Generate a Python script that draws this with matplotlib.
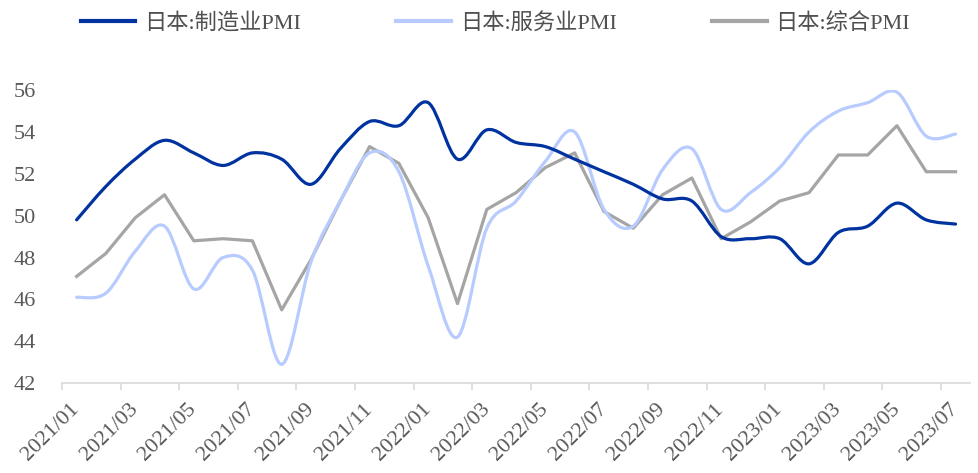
import matplotlib
matplotlib.use("Agg")
import matplotlib.pyplot as plt
from matplotlib.path import Path
from matplotlib.patches import PathPatch
from matplotlib.lines import Line2D

plt.rcParams['font.family'] = ['Liberation Serif', 'Noto Sans CJK SC']

# 2021/01 - 2023/07, monthly
months = [f"{y}/{m:02d}" for y in (2021, 2022, 2023) for m in range(1, 13)][:31]

manufacturing = [49.8, 51.4, 52.7, 53.6, 53.0, 52.4, 53.0, 52.7, 51.5, 53.2, 54.5, 54.3,
                 55.4, 52.7, 54.1, 53.5, 53.3, 52.7, 52.1, 51.5, 50.8, 50.7, 49.0, 48.9,
                 48.9, 47.7, 49.2, 49.5, 50.6, 49.8, 49.6]
services = [46.1, 46.3, 48.3, 49.5, 46.5, 48.0, 47.4, 42.9, 47.8, 50.7, 53.0, 52.1,
            47.6, 44.2, 49.4, 50.7, 52.6, 54.0, 50.3, 49.5, 52.2, 53.2, 50.3, 51.1,
            52.3, 54.0, 55.0, 55.4, 55.9, 53.8, 53.9]
composite = [47.1, 48.2, 49.9, 51.0, 48.8, 48.9, 48.8, 45.5, 47.9, 50.7, 53.3, 52.5,
             49.9, 45.8, 50.3, 51.1, 52.3, 53.0, 50.2, 49.4, 51.0, 51.8, 48.9, 49.7,
             50.7, 51.1, 52.9, 52.9, 54.3, 52.1, 52.1]

labels = ["日本:制造业PMI", "日本:服务业PMI", "日本:综合PMI"]
colors = ["#0033A0", "#B8CBFF", "#A5A5A5"]


def smooth_path(ys):
    # excel style smoothed line: bezier segments with catmull-rom control points
    n = len(ys)
    pts = list(zip(range(n), ys))
    verts = [pts[0]]
    codes = [Path.MOVETO]
    for i in range(n - 1):
        p0 = pts[max(i - 1, 0)]
        p1 = pts[i]
        p2 = pts[i + 1]
        p3 = pts[min(i + 2, n - 1)]
        c1 = (p1[0] + (p2[0] - p0[0]) / 6, p1[1] + (p2[1] - p0[1]) / 6)
        c2 = (p2[0] - (p3[0] - p1[0]) / 6, p2[1] - (p3[1] - p1[1]) / 6)
        verts += [c1, c2, p2]
        codes += [Path.CURVE4] * 3
    return Path(verts, codes)


fig = plt.figure(figsize=(9.79, 4.73), dpi=100)
ax = fig.add_axes([0.0633, 0.190, 0.9277, 0.6195])

lw = 2.3
for ys, c in [(services, colors[1]), (manufacturing, colors[0])]:
    ax.add_patch(PathPatch(smooth_path(ys), fill=False, edgecolor=c, lw=lw,
                           capstyle='round', joinstyle='round', zorder=3))
ax.plot(range(len(composite)), composite, color=colors[2], lw=lw, zorder=2)

ax.set_xlim(-0.5, len(months) - 0.5)
ax.set_ylim(42, 56)
ax.set_yticks(range(42, 57, 2))

ax.set_xticks(range(0, len(months), 2))
ax.set_xticklabels(months[::2])
ax.set_xticks([i - 0.5 for i in range(0, len(months), 2)], minor=True)
ax.tick_params(axis='x', which='major', length=0, pad=17, labelsize=16, labelcolor='#595959')
ax.tick_params(axis='x', which='minor', length=5, width=1.2, color='#D9D9D9', direction='out')
ax.tick_params(axis='y', length=0, pad=19, labelsize=16, labelcolor='#595959')
for t in ax.get_xticklabels():
    t.set_rotation(45)
    t.set_ha('right')
    t.set_va('center')
    t.set_rotation_mode('anchor')

for s in ['top', 'right', 'left']:
    ax.spines[s].set_visible(False)
ax.spines['bottom'].set_color('#D9D9D9')
ax.spines['bottom'].set_linewidth(1.2)

handles = [Line2D([], [], color=c, lw=3) for c in colors]
fig.legend(handles, labels, loc='upper center', bbox_to_anchor=(0.506, 1.015), ncol=3,
           frameon=False, fontsize=16, handlelength=2.45, handletextpad=0.4,
           columnspacing=4.3, labelcolor='#505050')

fig.savefig("out.png", dpi=100)
